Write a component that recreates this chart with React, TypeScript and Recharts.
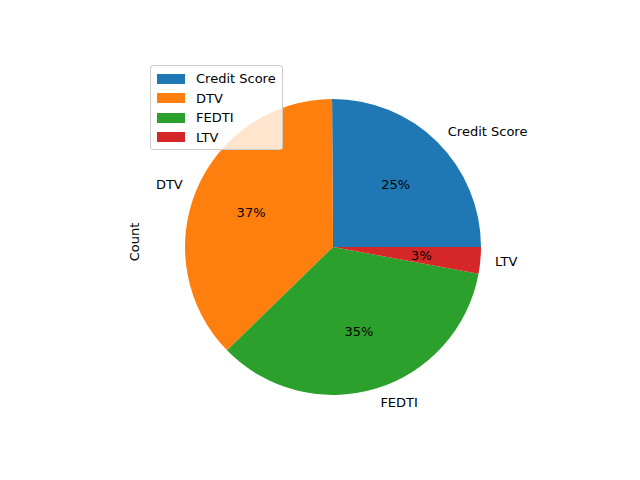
import React from 'react';
import { PieChart, Pie, Cell } from 'recharts';

const categories = ['Credit Score', 'DTV', 'FEDTI', 'LTV'];
const counts = [25.1, 37.2, 34.8, 2.9];
const colors = ['#1f77b4', '#ff7f0e', '#2ca02c', '#d62728'];

const data = categories.map((name, i) => ({ name, value: counts[i] }));
const RAD = Math.PI / 180;
const font = 'DejaVu Sans, sans-serif';

const renderLabel = (p: any) => {
  const { cx, cy, midAngle, outerRadius, percent, name } = p;
  const c = Math.cos(-midAngle * RAD);
  const s = Math.sin(-midAngle * RAD);
  const nx = cx + outerRadius * 1.1 * c;
  const ny = cy + outerRadius * 1.1 * s;
  const px = cx + outerRadius * 0.6 * c;
  const py = cy + outerRadius * 0.6 * s;
  return (
    <g>
      <text x={nx} y={ny} textAnchor={c >= 0 ? 'start' : 'end'} dominantBaseline="central" fill="#000" fontSize={13} fontFamily={font}>{name}</text>
      <text x={px} y={py} textAnchor="middle" dominantBaseline="central" fill="#000" fontSize={13} fontFamily={font}>{`${Math.round(percent * 100)}%`}</text>
    </g>
  );
};

export default function App() {
  return (
    <div style={{ position: 'absolute', left: 0, top: 0, width: 640, height: 480, background: '#fff', fontFamily: font }}>
      <PieChart width={640} height={480}>
        <Pie data={data} dataKey="value" nameKey="name" cx={328} cy={242} outerRadius={148}
          startAngle={0} endAngle={360} label={renderLabel} labelLine={false} stroke="none" isAnimationActive={false}>
          {data.map((d, i) => <Cell key={d.name} fill={colors[i]} />)}
        </Pie>
        <text x={134} y={242} transform="rotate(-90 134 242)" textAnchor="middle" dominantBaseline="central" fontSize={13} fontFamily={font} fill="#000">Count</text>
      </PieChart>
      <div style={{ position: 'absolute', left: 150, top: 65, width: 133, height: 85, border: '1px solid #ccc', borderRadius: 3, background: 'rgba(255,255,255,0.8)', boxSizing: 'border-box', padding: '3px 0 0 6px' }}>
        {categories.map((c, i) => (
          <div key={c} style={{ display: 'flex', alignItems: 'center', height: 19.5, fontSize: 13 }}>
            <span style={{ width: 28, height: 10, background: colors[i], marginRight: 11, display: 'inline-block' }} />
            <span>{c}</span>
          </div>
        ))}
      </div>
    </div>
  );
}
